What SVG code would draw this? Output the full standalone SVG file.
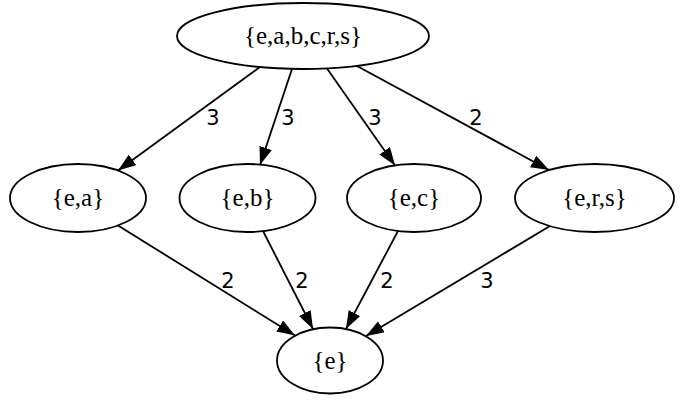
<svg xmlns="http://www.w3.org/2000/svg" width="700" height="405" viewBox="0 0 700 405">
<style>
.node ellipse{fill:none;stroke:#000;stroke-width:1.8}
.node text{font-family:"Liberation Serif","Times New Roman",serif;font-size:25px;text-anchor:middle;fill:#000}
.edge line{stroke:#000;stroke-width:1.8}
.lbl{font-family:"DejaVu Sans","Liberation Sans",sans-serif;font-size:21px;text-anchor:middle;fill:#000}
</style>
<defs>
<marker id="ah" markerUnits="userSpaceOnUse" markerWidth="20" markerHeight="14" refX="18" refY="6.5" orient="auto">
<path d="M0,0 L18,6.5 L0,13 z" fill="#000"/>
</marker>
</defs>
<rect width="700" height="405" fill="#fff"/>
<g id="edges" class="edge">
<line x1="260" y1="67" x2="118" y2="170.5" marker-end="url(#ah)"/>
<line x1="292" y1="69" x2="260" y2="165" marker-end="url(#ah)"/>
<line x1="327" y1="68.5" x2="395" y2="165.5" marker-end="url(#ah)"/>
<line x1="357" y1="66" x2="549" y2="170" marker-end="url(#ah)"/>
<line x1="118" y1="225.5" x2="295" y2="335.5" marker-end="url(#ah)"/>
<line x1="263" y1="231" x2="313" y2="329" marker-end="url(#ah)"/>
<line x1="398" y1="231" x2="346" y2="329" marker-end="url(#ah)"/>
<line x1="550" y1="226" x2="366" y2="336" marker-end="url(#ah)"/>
<text class="lbl" x="213" y="125">3</text>
<text class="lbl" x="288" y="125">3</text>
<text class="lbl" x="375" y="125">3</text>
<text class="lbl" x="476" y="125">2</text>
<text class="lbl" x="228" y="288">2</text>
<text class="lbl" x="302" y="288">2</text>
<text class="lbl" x="387" y="288">2</text>
<text class="lbl" x="487" y="288">3</text>
</g>
<g id="n_top" class="node"><ellipse cx="303" cy="36" rx="126" ry="33"/><text x="303" y="44">{e,a,b,c,r,s}</text></g>
<g id="n_ea" class="node"><ellipse cx="78" cy="198" rx="68" ry="34"/><text x="78" y="206">{e,a}</text></g>
<g id="n_eb" class="node"><ellipse cx="247.5" cy="198" rx="68" ry="34"/><text x="247.5" y="206">{e,b}</text></g>
<g id="n_ec" class="node"><ellipse cx="414" cy="198" rx="67" ry="34"/><text x="414" y="206">{e,c}</text></g>
<g id="n_ers" class="node"><ellipse cx="594.5" cy="198" rx="79.5" ry="34"/><text x="594.5" y="206">{e,r,s}</text></g>
<g id="n_e" class="node"><ellipse cx="330" cy="360.5" rx="53" ry="33"/><text x="330" y="368.5">{e}</text></g>
</svg>
